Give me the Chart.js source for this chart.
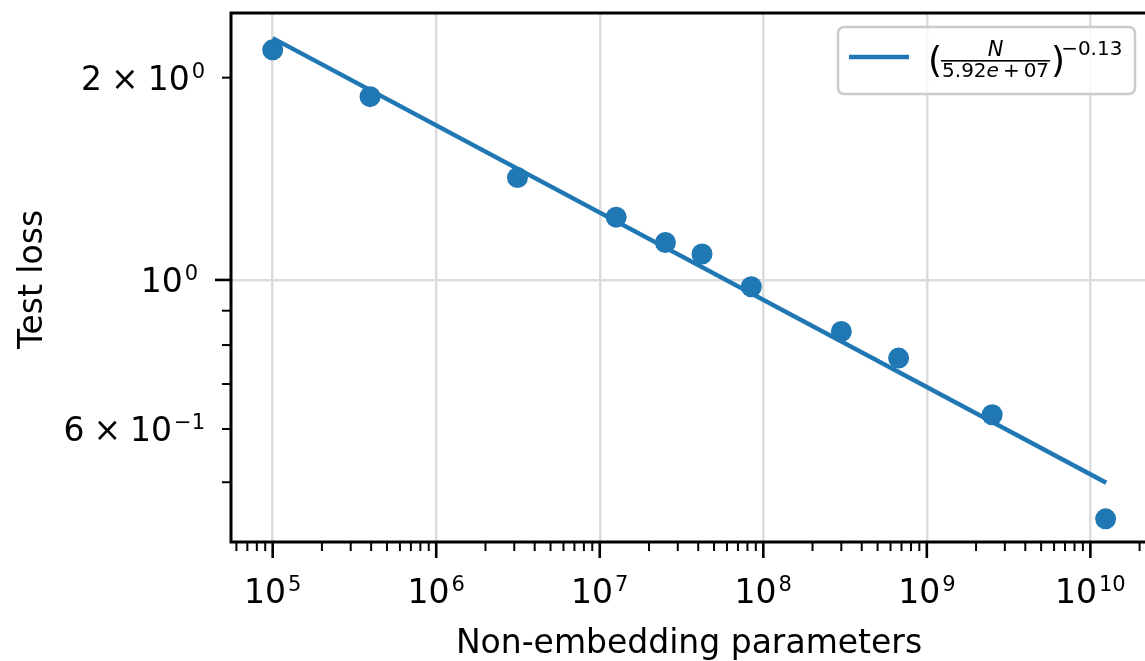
<!DOCTYPE html>
<html>
<head>
<meta charset="utf-8">
<title>Test loss vs non-embedding parameters</title>
<script src="https://cdn.jsdelivr.net/npm/chart.js@4.4.0/dist/chart.umd.min.js"></script>
<style>
  html, body { margin: 0; padding: 0; background: #fff; overflow: hidden; }
  #wrap { width: 1160px; height: 661px; }
</style>
</head>
<body>
<div id="wrap"><canvas id="chart" width="1160" height="661"></canvas></div>
<script>
// values
const params = [1.0e5, 3.94e5, 3.14e6, 1.26e7, 2.52e7, 4.22e7, 8.45e7, 3.0e8, 6.72e8, 2.51e9, 1.24e10];
const testLoss = [2.2, 1.874, 1.42, 1.24, 1.137, 1.093, 0.977, 0.838, 0.765, 0.63, 0.441];

// fitted power law, two end points
const fitParams = [1.0e5, 1.25e10];
const fitLoss = [2.29, 0.499];

const xLimits = [5.56e4, 2.22e10];
const yLimits = [0.4074, 2.496];

const xTickValues = [1e5, 1e6, 1e7, 1e8, 1e9, 1e10];
const xTickLabels = ["10^5", "10^6", "10^7", "10^8", "10^9", "10^10"];
const yTickValues = [2, 1, 0.6];
const yTickLabels = ["2 × 10^0", "10^0", "6 × 10^−1"];
const yMinorValues = [0.5, 0.6, 0.7, 0.8, 0.9, 2];

const xTitle = "Non-embedding parameters";
const yTitle = "Test loss";
const fitNum = "N";
const fitDen = ["5.92", "e", "+", "07"];
const fitExp = "−0.13";

const FONT = '"DejaVu Sans", sans-serif';
const BLUE = "#1f77b4";
const MAIN = 33;
const SUP = 21;

function isDecade(v) {
  const l = Math.log10(v);
  return Math.abs(l - Math.round(l)) < 1e-9;
}

// minor tick positions on the x axis: 2..9 x 10^n
function xMinorTicks() {
  const out = [];
  for (let e = 4; e <= 10; e++) {
    for (let k = 2; k <= 9; k++) {
      const v = k * Math.pow(10, e);
      if (v > xLimits[0] && v < xLimits[1]) out.push(v);
    }
  }
  return out;
}

// label like "2 × 10^0" : words of the base, then a raised exponent
function drawPower(ctx, text, x, y, align) {
  const parts = text.split("^");
  const words = parts[0].split(" ");
  const wordGap = 9;
  ctx.font = MAIN + "px " + FONT;
  const ww = words.map((w) => ctx.measureText(w).width);
  const wb = ww.reduce((a, b) => a + b, 0) + wordGap * (words.length - 1);
  ctx.font = SUP + "px " + FONT;
  const we = ctx.measureText(parts[1]).width;
  const gap = 2;
  const total = wb + gap + we;
  let x0 = x;
  if (align === "center") x0 = x - total / 2;
  if (align === "right") x0 = x - total;
  ctx.textAlign = "left";
  ctx.textBaseline = "alphabetic";
  ctx.font = MAIN + "px " + FONT;
  let cx = x0;
  words.forEach((w, i) => {
    ctx.fillText(w, cx, y);
    cx += ww[i] + wordGap;
  });
  ctx.font = SUP + "px " + FONT;
  ctx.fillText(parts[1], x0 + wb + gap, y - 12);
}

function drawLegend(ctx, area) {
  const bw = 297, bh = 67;
  const bx = area.right - 12 - bw;
  const by = area.top + 14;

  ctx.save();
  ctx.beginPath();
  ctx.roundRect(bx, by, bw, bh, 6);
  ctx.fillStyle = "rgba(255,255,255,0.8)";
  ctx.fill();
  ctx.lineWidth = 2.5;
  ctx.strokeStyle = "#cccccc";
  ctx.stroke();

  // line sample
  ctx.beginPath();
  ctx.moveTo(bx + 11, by + 30);
  ctx.lineTo(bx + 71, by + 30);
  ctx.lineWidth = 4.5;
  ctx.strokeStyle = BLUE;
  ctx.stroke();

  ctx.fillStyle = "#000";
  ctx.textBaseline = "alphabetic";
  ctx.textAlign = "left";

  let x = bx + 90;
  ctx.font = "36px " + FONT;
  ctx.fillText("(", x, by + 45);
  x += ctx.measureText("(").width - 1;

  // denominator pieces
  const pieces = [
    { t: fitDen[0], f: "20px " + FONT, after: 0 },
    { t: fitDen[1], f: "oblique 20px " + FONT, after: 4 },
    { t: fitDen[2], f: "20px " + FONT, after: 4 },
    { t: fitDen[3], f: "20px " + FONT, after: 0 }
  ];
  let dw = 0;
  pieces.forEach((p) => {
    ctx.font = p.f;
    p.w = ctx.measureText(p.t).width;
    dw += p.w + p.after;
  });
  const fw = dw + 2;

  ctx.font = "oblique 21px " + FONT;
  const nw = ctx.measureText(fitNum).width;
  ctx.fillText(fitNum, x + (fw - nw) / 2, by + 29);

  ctx.fillRect(x, by + 33, fw, 1.6);

  let dx = x + 1;
  pieces.forEach((p) => {
    ctx.font = p.f;
    ctx.fillText(p.t, dx, by + 50);
    dx += p.w + p.after;
  });
  x += fw + 1;

  ctx.font = "36px " + FONT;
  ctx.fillText(")", x, by + 45);
  x += ctx.measureText(")").width - 4;

  ctx.font = "20px " + FONT;
  ctx.fillText(fitExp, x, by + 28);
  ctx.restore();
}

const axesPlugin = {
  id: "axesPlugin",
  afterDraw(chart) {
    const ctx = chart.ctx;
    const area = chart.chartArea;
    const xs = chart.scales.x;
    const ys = chart.scales.y;

    ctx.save();
    // spines
    ctx.strokeStyle = "#000";
    ctx.lineWidth = 3;
    ctx.strokeRect(area.left, area.top, area.right - area.left, area.bottom - area.top);

    // x ticks
    const drawXTick = (v, len, w) => {
      const px = xs.getPixelForValue(v);
      ctx.beginPath();
      ctx.lineWidth = w;
      ctx.moveTo(px, area.bottom);
      ctx.lineTo(px, area.bottom + len);
      ctx.stroke();
    };
    xMinorTicks().forEach((v) => drawXTick(v, 9, 2));
    xTickValues.forEach((v) => drawXTick(v, 16, 2.6));

    // y ticks
    const drawYTick = (v, len, w) => {
      const py = ys.getPixelForValue(v);
      ctx.beginPath();
      ctx.lineWidth = w;
      ctx.moveTo(area.left, py);
      ctx.lineTo(area.left - len, py);
      ctx.stroke();
    };
    yMinorValues.forEach((v) => drawYTick(v, 9, 2));
    yTickValues.filter(isDecade).forEach((v) => drawYTick(v, 16, 2.6));

    // tick labels
    ctx.fillStyle = "#000";
    xTickValues.forEach((v, i) => {
      drawPower(ctx, xTickLabels[i], xs.getPixelForValue(v), area.bottom + 60.5, "center");
    });
    yTickValues.forEach((v, i) => {
      const len = isDecade(v) ? 16 : 9;
      drawPower(ctx, yTickLabels[i], area.left - len - 17, ys.getPixelForValue(v) + 12, "right");
    });

    // axis titles
    ctx.font = MAIN + "px " + FONT;
    ctx.textAlign = "center";
    ctx.textBaseline = "alphabetic";
    ctx.fillText(xTitle, (area.left + area.right) / 2, area.bottom + 111);

    ctx.save();
    ctx.translate(area.left - 189.5, (area.top + area.bottom) / 2 + 2);
    ctx.rotate(-Math.PI / 2);
    ctx.fillText(yTitle, 0, 0);
    ctx.restore();

    drawLegend(ctx, area);
    ctx.restore();
  }
};

const points = params.map((p, i) => ({ x: p, y: testLoss[i] }));
const fitLine = fitParams.map((p, i) => ({ x: p, y: fitLoss[i] }));

new Chart(document.getElementById("chart"), {
  type: "scatter",
  data: {
    datasets: [
      {
        label: "data",
        data: points,
        backgroundColor: BLUE,
        borderColor: BLUE,
        borderWidth: 0,
        pointRadius: 10.5,
        pointHoverRadius: 10.5
      },
      {
        label: "fit",
        data: fitLine,
        showLine: true,
        borderColor: BLUE,
        borderWidth: 4.5,
        pointRadius: 0,
        fill: false
      }
    ]
  },
  options: {
    responsive: false,
    animation: false,
    devicePixelRatio: 1,
    layout: { padding: { left: 231, right: 13, top: 13, bottom: 119 } },
    plugins: {
      legend: { display: false },
      tooltip: { enabled: false }
    },
    scales: {
      x: {
        type: "logarithmic",
        min: xLimits[0],
        max: xLimits[1],
        afterBuildTicks: (scale) => {
          scale.ticks = xTickValues.map((v) => ({ value: v, major: true }));
        },
        ticks: { display: false },
        grid: { color: "#dcdcdc", lineWidth: 2.5, drawTicks: false },
        border: { display: false }
      },
      y: {
        type: "logarithmic",
        min: yLimits[0],
        max: yLimits[1],
        afterBuildTicks: (scale) => {
          scale.ticks = yTickValues.filter(isDecade).map((v) => ({ value: v, major: true }));
        },
        ticks: { display: false },
        grid: { color: "#dcdcdc", lineWidth: 2.5, drawTicks: false },
        border: { display: false }
      }
    }
  },
  plugins: [axesPlugin]
});
</script>
</body>
</html>
